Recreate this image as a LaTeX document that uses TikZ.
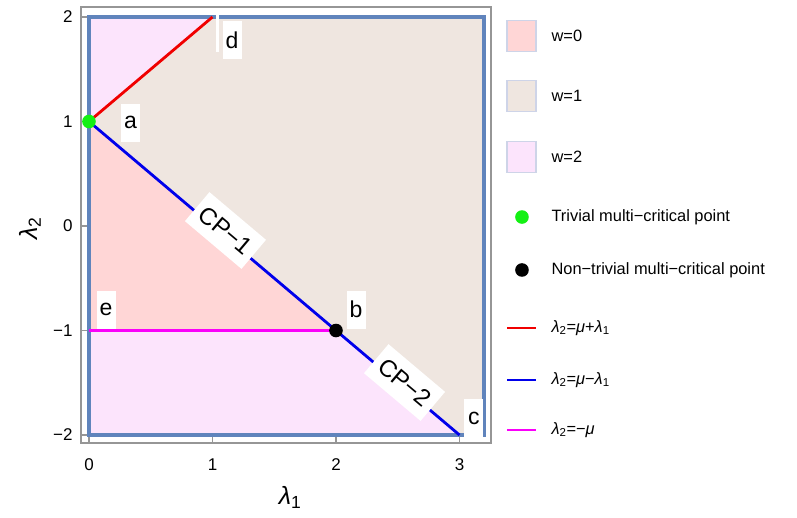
\documentclass[tikz,border=0pt]{standalone}
\usepackage{fontspec}
\setmainfont{Liberation Sans}
\usepackage{tikz}
\definecolor{wzero}{RGB}{255,214,214}
\definecolor{wone}{RGB}{239,230,224}
\definecolor{wtwo}{RGB}{252,228,252}
\definecolor{edgeblue}{RGB}{96,132,188}
\definecolor{swatchedge}{RGB}{206,212,232}
\definecolor{framegray}{RGB}{150,150,150}
\definecolor{dotgreen}{RGB}{20,240,20}
\definecolor{linered}{RGB}{240,0,0}
\definecolor{lineblue}{RGB}{0,0,235}
\definecolor{linemag}{RGB}{250,0,250}
\newcommand{\lsym}[1]{{\itshape λ}\textsubscript{#1}}
\newcommand{\musym}{{\itshape μ}}

\begin{document}
\begin{tikzpicture}[x=123.5pt, y=104.5pt,
    lbl/.style={fill=white, inner sep=0pt, minimum width=19pt, minimum height=38pt,
      font=\fontsize{23}{27}\selectfont},
    cplbl/.style={lbl, minimum width=74pt, rotate=-40.15, font=\fontsize{24}{28}\selectfont},
    ticklbl/.style={font=\fontsize{17}{20}\selectfont},
    legtxt/.style={anchor=west, font=\fontsize{16.4}{19}\selectfont},
    phase/.style={line width=2.8pt}]
  \useasboundingbox (-0.7206,-2.7847) rectangle (5.7328,2.1627);
  % Special points
  \coordinate (pa) at (0,1);
  \coordinate (pb) at (2,-1);
  \coordinate (pc) at (3,-2);
  \coordinate (pd) at (1,2);
  \coordinate (pe) at (0,-1);
  % Phase regions
  \fill[wone] (pa) -- (pd) -- (3.2,2) -- (3.2,-2) -- (pc) -- cycle;
  \fill[wtwo] (pa) -- (0,2) -- (pd) -- cycle;
  \fill[wzero] (pa) -- (pb) -- (pe) -- cycle;
  \fill[wtwo] (pe) -- (pb) -- (pc) -- (0,-2) -- cycle;
  \draw[edgeblue, line width=3.4pt] (0,-2) rectangle (3.2,2);
  % Frame and ticks
  \draw[framegray, line width=1.2pt] (-0.065,-2.077) rectangle (3.255,2.096);
  \foreach \xv in {0,1,2,3}
  { \draw[framegray, line width=1.2pt] (\xv,-2.077) -- ++(0,0.057);
    \node[ticklbl] (xt\xv) at (\xv,-2.287) {\xv}; }
  \foreach \yv/\ytxt in {2/2, 1/1, 0/0, -1/−1, -2/−2}
  { \draw[framegray, line width=1.2pt] (-0.065,\yv) -- ++(0.049,0);
    \node[ticklbl, anchor=east] (yt\yv) at (-0.105,\yv) {\ytxt}; }
  \node[font=\fontsize{25}{29}\selectfont] (xlab) at (1.628,-2.594) {\lsym{1}};
  \node[font=\fontsize{25}{29}\selectfont, rotate=90] (ylab) at (-0.478,-0.02) {\lsym{2}};
  % Phase boundaries
  \draw[phase, linered] (pa) -- (pd);
  \draw[phase, lineblue] (pa) -- (pc);
  \draw[phase, linemag] (pe) -- (pb);
  % Point labels
  \node[lbl] (la) at (0.336,0.99) {a};
  \node[lbl] (lb) at (2.162,-0.80) {b};
  \node[lbl] (lc) at (3.117,-1.84) {c};
  \node[lbl] (ld) at (1.158,1.78) {d};
  \node[lbl] (le) at (0.138,-0.80) {e};
  \fill[white] (1.028,1.665) rectangle (1.053,2.03);
  \node[cplbl] (cpone) at (1.105,-0.043) {CP−1};
  \node[cplbl] (cptwo) at (2.555,-1.498) {CP−2};
  % Multi-critical points
  \fill[dotgreen] (pa) circle (6.8pt);
  \fill[black] (pb) circle (6.8pt);
  % Legend
  \foreach \col/\yc/\txt in {wzero/1.818/w=0, wone/1.244/w=1, wtwo/0.660/w=2}
  { \draw[swatchedge, line width=1.2pt, fill=\col] (3.385,\yc-0.148) rectangle (3.619,\yc+0.148);
    \node[legtxt] (leg\col) at (3.717,\yc) {\txt}; }
  \fill[dotgreen] (3.506,0.086) circle (6.8pt);
  \node[legtxt] (legtriv) at (3.717,0.086) {Trivial multi−critical point};
  \fill[black] (3.506,-0.421) circle (6.8pt);
  \node[legtxt] (legnontriv) at (3.717,-0.421) {Non−trivial multi−critical point};
  \foreach \col/\yc/\txt in {linered/-0.976/{\lsym{2}=\musym+\lsym{1}},
      lineblue/-1.474/{\lsym{2}=\musym−\lsym{1}},
      linemag/-1.952/{\lsym{2}=−\musym}}
  { \draw[\col, line width=2.4pt] (3.385,\yc) -- (3.619,\yc);
    \node[legtxt] (leg\col) at (3.717,\yc) {\txt}; }
\end{tikzpicture}
\end{document}
